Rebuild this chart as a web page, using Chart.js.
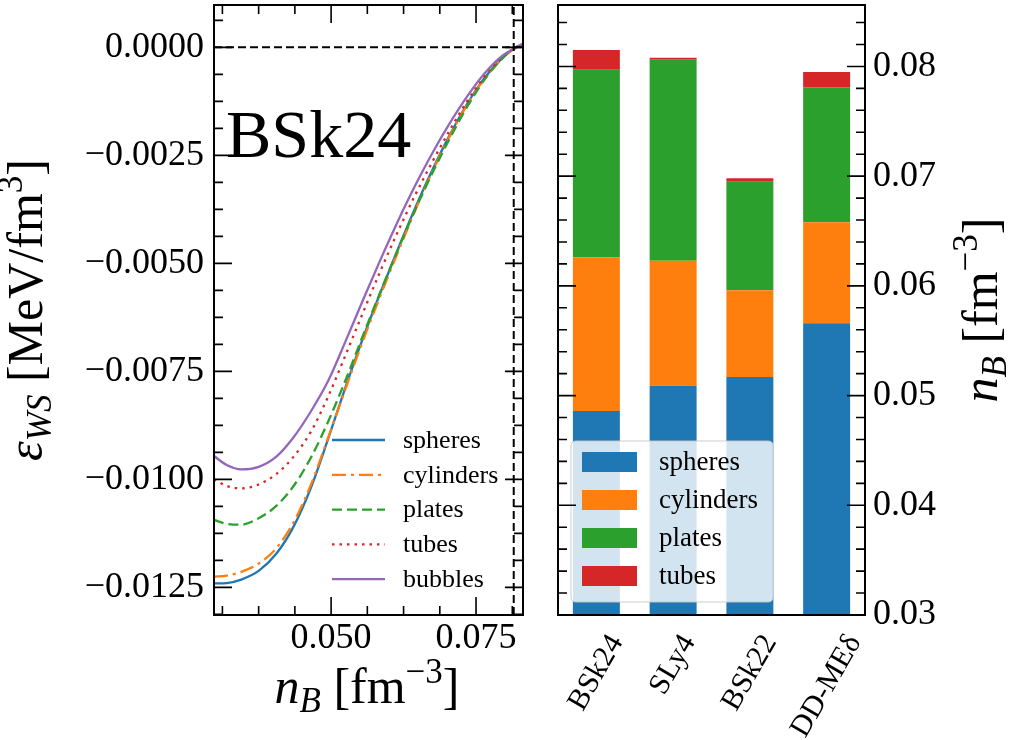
<!DOCTYPE html>
<html><head><meta charset="utf-8">
<script src="https://cdn.jsdelivr.net/npm/chart.js@4.4.1/dist/chart.umd.min.js"></script>
<style>
html,body{margin:0;padding:0;background:#fff;width:1009px;height:740px;overflow:hidden}
#ca{position:absolute;left:0;top:0}
#cb{position:absolute;left:540px;top:0}
</style></head><body>
<canvas id="ca" width="540" height="740"></canvas>
<canvas id="cb" width="469" height="740"></canvas>
<script>
// ---------------- data (left panel) ----------------
const nB           = [0.0298, 0.032, 0.0345, 0.0375, 0.0405, 0.0435, 0.0465, 0.0495, 0.0525, 0.0555, 0.0585, 0.0615, 0.0645, 0.0675, 0.0705, 0.0735, 0.0765, 0.0795, 0.0815, 0.0831];
const epsSpheres   = [-0.01241, -0.01240, -0.01232, -0.01212, -0.01173, -0.01110, -0.01020, -0.00906, -0.00786, -0.00673, -0.00568, -0.00468, -0.00372, -0.00283, -0.00202, -0.00130, -0.00070, -0.00025, -0.00003, 0.00008];
const epsCylinders = [-0.01225, -0.01223, -0.01214, -0.01195, -0.01160, -0.01100, -0.01013, -0.00903, -0.00790, -0.00679, -0.00575, -0.00475, -0.00378, -0.00287, -0.00205, -0.00132, -0.00072, -0.00026, -0.00004, 0.00008];
const epsPlates    = [-0.01094, -0.01103, -0.01105, -0.01090, -0.01062, -0.01016, -0.00950, -0.00866, -0.00770, -0.00667, -0.00566, -0.00469, -0.00376, -0.00290, -0.00210, -0.00137, -0.00074, -0.00026, -0.00004, 0.00007];
const epsTubes     = [-0.01000, -0.01015, -0.01021, -0.01012, -0.00988, -0.00948, -0.00890, -0.00808, -0.00712, -0.00614, -0.00518, -0.00427, -0.00342, -0.00264, -0.00191, -0.00124, -0.00067, -0.00022, -0.00003, 0.00008];
const epsBubbles   = [-0.00946, -0.00967, -0.00977, -0.00971, -0.00948, -0.00903, -0.00843, -0.00772, -0.00680, -0.00585, -0.00492, -0.00403, -0.00320, -0.00244, -0.00175, -0.00113, -0.00060, -0.00020, -0.00003, 0.00007];
const leftXTicks       = [0.050, 0.075];
const leftXTickLabels  = ['0.050', '0.075'];
const leftYTicks       = [-0.0125, -0.0100, -0.0075, -0.0050, -0.0025, 0.0000];
const leftYTickLabels  = ['\u22120.0125', '\u22120.0100', '\u22120.0075', '\u22120.0050', '\u22120.0025', '0.0000'];
const crustCoreEdge    = 0.0815;
const zeroLevel        = 0.0;
const seriesNames      = ['spheres', 'cylinders', 'plates', 'tubes', 'bubbles'];

// ---------------- data (right panel) ----------------
const models        = ['BSk24', 'SLy4', 'BSk22', 'DD-ME\u03b4'];
const endSpheres    = [0.0486, 0.0509, 0.0517, 0.0566];
const endCylinders  = [0.0626, 0.0623, 0.0596, 0.0658];
const endPlates     = [0.0797, 0.0806, 0.0695, 0.0781];
const endTubes      = [0.0815, 0.0808, 0.0698, 0.0795];
const rightYTicks      = [0.03, 0.04, 0.05, 0.06, 0.07, 0.08];
const rightYTickLabels = ['0.03', '0.04', '0.05', '0.06', '0.07', '0.08'];
const barNames      = ['spheres', 'cylinders', 'plates', 'tubes'];

// ---------------- styling ----------------
const FONT = '"Liberation Serif", "Times New Roman", serif';
const C = { blue: '#1f77b4', orange: '#ff7f0e', green: '#2ca02c', red: '#d62728', purple: '#9467bd' };
const LX = [0.0298, 0.0831], LY = [-0.01314, 0.00098], RY = [0.03, 0.0856];

function minorList(lo, hi, step, origin) {
  const out = [];
  let k = Math.ceil((lo - origin) / step - 1e-9);
  for (;; k++) { const v = +(origin + k * step).toFixed(8); if (v > hi + 1e-12) break; out.push(v); }
  return out;
}
function fontStr(p) { return (p.italic ? 'italic ' : '') + p.size + 'px ' + FONT; }
function rich(ctx, parts, x, y, angle) {
  ctx.save();
  ctx.translate(x, y); ctx.rotate(angle || 0);
  let total = 0;
  for (const p of parts) { ctx.font = fontStr(p); p.w = ctx.measureText(p.t).width; total += p.w; }
  let cx = -total / 2;
  ctx.textBaseline = 'alphabetic'; ctx.textAlign = 'left'; ctx.fillStyle = '#000';
  for (const p of parts) { ctx.font = fontStr(p); ctx.fillText(p.t, cx, p.dy || 0); cx += p.w; }
  ctx.restore();
}
function tickMarks(ctx, scale, vals, len, side, a) {
  ctx.beginPath();
  for (const v of vals) {
    const p = scale.getPixelForValue(v);
    if (side === 'left' || side === 'right') {
      if (p < a.top - 0.5 || p > a.bottom + 0.5) continue;
      const x0 = side === 'left' ? a.left : a.right;
      ctx.moveTo(x0, p); ctx.lineTo(side === 'left' ? x0 + len : x0 - len, p);
    } else {
      if (p < a.left - 0.5 || p > a.right + 0.5) continue;
      const y0 = side === 'bottom' ? a.bottom : a.top;
      ctx.moveTo(p, y0); ctx.lineTo(p, side === 'bottom' ? y0 - len : y0 + len);
    }
  }
  ctx.stroke();
}
const MAJ = 18, MIN = 9;

// ---------------- left chart ----------------
const lineStyles = [
  { data: epsSpheres,   color: C.blue,   dash: [],             order: 5 },
  { data: epsCylinders, color: C.orange, dash: [14, 5, 3, 5],  order: 4 },
  { data: epsPlates,    color: C.green,  dash: [10, 5],        order: 3 },
  { data: epsTubes,     color: C.red,    dash: [2.5, 5],       order: 2 },
  { data: epsBubbles,   color: C.purple, dash: [],             order: 1 }
];
const leftDatasets = lineStyles.map((s, i) => ({
  label: seriesNames[i],
  data: nB.map((x, j) => ({ x: x, y: s.data[j] })),
  borderColor: s.color, borderDash: s.dash, borderWidth: 2.3,
  pointRadius: 0, fill: false, cubicInterpolationMode: 'monotone', order: s.order
}));
leftDatasets.push({
  label: 'zero', data: [{ x: LX[0], y: zeroLevel }, { x: LX[1], y: zeroLevel }],
  borderColor: '#000', borderDash: [8, 4], borderWidth: 2, pointRadius: 0, order: 0
});
leftDatasets.push({
  label: 'edge', data: [{ x: crustCoreEdge, y: LY[0] }, { x: crustCoreEdge, y: LY[1] }],
  borderColor: '#000', borderDash: [8, 4], borderWidth: 2, pointRadius: 0, order: 0
});

const leftDecor = {
  id: 'leftDecor',
  afterDraw(chart) {
    const ctx = chart.ctx, a = chart.chartArea, xs = chart.scales.x, ys = chart.scales.y;
    ctx.save();
    ctx.strokeStyle = '#000'; ctx.lineWidth = 2; ctx.setLineDash([]);
    ctx.strokeRect(a.left, a.top, a.right - a.left, a.bottom - a.top);
    ctx.lineWidth = 1.6;
    const xMinor = minorList(LX[0], LX[1], 0.00625, 0.05).filter(v => !leftXTicks.some(t => Math.abs(t - v) < 1e-9));
    const yMinor = minorList(LY[0], LY[1], 0.000625, 0).filter(v => !leftYTicks.some(t => Math.abs(t - v) < 1e-9));
    ['bottom', 'top'].forEach(s => { tickMarks(ctx, xs, leftXTicks, MAJ, s, a); tickMarks(ctx, xs, xMinor, MIN, s, a); });
    ['left', 'right'].forEach(s => { tickMarks(ctx, ys, leftYTicks, MAJ, s, a); tickMarks(ctx, ys, yMinor, MIN, s, a); });
    // model name
    ctx.fillStyle = '#000'; ctx.font = '68px ' + FONT; ctx.textBaseline = 'alphabetic'; ctx.textAlign = 'left';
    ctx.fillText('BSk24', 226, 157);
    // legend
    ctx.font = '26px ' + FONT; ctx.textBaseline = 'middle';
    lineStyles.forEach((s, i) => {
      const y = 440 + i * 34.8;
      ctx.beginPath(); ctx.strokeStyle = s.color; ctx.lineWidth = 2.3; ctx.setLineDash(s.dash);
      ctx.moveTo(332, y); ctx.lineTo(385, y); ctx.stroke();
      ctx.setLineDash([]); ctx.fillStyle = '#000';
      ctx.fillText(seriesNames[i], 403, y + 1);
    });
    // axis titles
    rich(ctx, [{ t: 'n', italic: true, size: 50 }, { t: 'B', italic: true, size: 35, dy: 9 },
               { t: ' [fm', size: 50 }, { t: '\u22123', size: 35, dy: -20 }, { t: ']', size: 50 }], 367, 703, 0);
    rich(ctx, [{ t: '\u03b5', italic: true, size: 50 }, { t: 'WS', italic: true, size: 35, dy: 9 },
               { t: ' [MeV/fm', size: 50 }, { t: '3', size: 35, dy: -20 }, { t: ']', size: 50 }], 42, 310, -Math.PI / 2);
    ctx.restore();
  }
};

new Chart(document.getElementById('ca'), {
  type: 'line',
  data: { datasets: leftDatasets },
  options: {
    responsive: false, animation: false, devicePixelRatio: 1,
    layout: { padding: { left: 0, top: 5, right: 17, bottom: 0 } },
    plugins: { legend: { display: false }, tooltip: { enabled: false } },
    scales: {
      x: {
        type: 'linear', min: LX[0], max: LX[1],
        grid: { display: false, drawTicks: false }, border: { display: false },
        afterBuildTicks: s => { s.ticks = leftXTicks.map(v => ({ value: v })); },
        afterFit: s => { s.height = 125; s.paddingLeft = 0; s.paddingRight = 0; },
        ticks: { autoSkip: false, maxRotation: 0, padding: 2, color: '#000', font: { family: FONT, size: 36 },
                 callback: (v, i) => leftXTickLabels[i] }
      },
      y: {
        type: 'linear', min: LY[0], max: LY[1],
        grid: { display: false, drawTicks: false }, border: { display: false },
        afterBuildTicks: s => { s.ticks = leftYTicks.map(v => ({ value: v })); },
        afterFit: s => { s.width = 214; s.paddingTop = 0; s.paddingBottom = 0; },
        ticks: { autoSkip: false, padding: 10, color: '#000', font: { family: FONT, size: 36 },
                 callback: (v, i) => leftYTickLabels[i] }
      }
    }
  },
  plugins: [leftDecor]
});

// ---------------- right chart ----------------
const barColors = [C.blue, C.orange, C.green, C.red];
const lows  = [models.map(() => RY[0]), endSpheres, endCylinders, endPlates];
const highs = [endSpheres, endCylinders, endPlates, endTubes];
const rightDatasets = barNames.map((n, k) => ({
  label: n,
  data: models.map((m, i) => [lows[k][i], highs[k][i]]),
  backgroundColor: barColors[k], borderWidth: 0, grouped: false,
  barPercentage: 0.612, categoryPercentage: 1.0
}));

const rightDecor = {
  id: 'rightDecor',
  afterDraw(chart) {
    const ctx = chart.ctx, a = chart.chartArea, xs = chart.scales.x, ys = chart.scales.y;
    ctx.save();
    ctx.strokeStyle = '#000'; ctx.lineWidth = 2;
    ctx.strokeRect(a.left, a.top, a.right - a.left, a.bottom - a.top);
    ctx.lineWidth = 1.6;
    const yMinor = minorList(RY[0], RY[1], 0.002, 0.03).filter(v => !rightYTicks.some(t => Math.abs(t - v) < 1e-9));
    ['left', 'right'].forEach(s => { tickMarks(ctx, ys, rightYTicks, MAJ, s, a); tickMarks(ctx, ys, yMinor, MIN, s, a); });
    // rotated category labels, centred on the bars
    ctx.font = '30px ' + FONT; ctx.fillStyle = '#000'; ctx.textAlign = 'center'; ctx.textBaseline = 'middle';
    const ang = Math.PI / 3;
    models.forEach((m, i) => {
      const cx = xs.getPixelForValue(i);
      const L = ctx.measureText(m).width, h = 26;
      const bh = L * Math.sin(ang) + h * Math.cos(ang);
      ctx.save(); ctx.translate(cx, 631 + bh / 2); ctx.rotate(-ang); ctx.fillText(m, 0, 0); ctx.restore();
    });
    // axis title
    rich(ctx, [{ t: 'n', italic: true, size: 50 }, { t: 'B', italic: true, size: 35, dy: 9 },
               { t: ' [fm', size: 50 }, { t: '\u22123', size: 35, dy: -20 }, { t: ']', size: 50 }], 457, 310, -Math.PI / 2);
    ctx.restore();
  },
  afterDatasetsDraw(chart) {
    const ctx = chart.ctx;
    ctx.save();
    const bx = 31, by = 441, bw = 202, bh = 161, r = 5;
    ctx.beginPath();
    ctx.moveTo(bx + r, by); ctx.lineTo(bx + bw - r, by); ctx.quadraticCurveTo(bx + bw, by, bx + bw, by + r);
    ctx.lineTo(bx + bw, by + bh - r); ctx.quadraticCurveTo(bx + bw, by + bh, bx + bw - r, by + bh);
    ctx.lineTo(bx + r, by + bh); ctx.quadraticCurveTo(bx, by + bh, bx, by + bh - r);
    ctx.lineTo(bx, by + r); ctx.quadraticCurveTo(bx, by, bx + r, by); ctx.closePath();
    ctx.fillStyle = 'rgba(255,255,255,0.8)'; ctx.fill();
    ctx.strokeStyle = 'rgba(200,200,200,0.9)'; ctx.lineWidth = 1; ctx.stroke();
    ctx.font = '27px ' + FONT; ctx.textBaseline = 'middle'; ctx.textAlign = 'left';
    barNames.forEach((n, k) => {
      const y = 462 + k * 38;
      ctx.fillStyle = barColors[k]; ctx.fillRect(42, y - 10, 55, 20);
      ctx.fillStyle = '#000'; ctx.fillText(n, 119, y + 1);
    });
    ctx.restore();
  }
};

new Chart(document.getElementById('cb'), {
  type: 'bar',
  data: { labels: models, datasets: rightDatasets },
  options: {
    responsive: false, animation: false, devicePixelRatio: 1,
    layout: { padding: { left: 18, top: 5, right: 0, bottom: 0 } },
    plugins: { legend: { display: false }, tooltip: { enabled: false } },
    scales: {
      x: {
        type: 'category', offset: true,
        grid: { display: false, drawTicks: false }, border: { display: false },
        ticks: { display: false },
        afterFit: s => { s.height = 125; s.paddingLeft = 0; s.paddingRight = 0; }
      },
      y: {
        type: 'linear', position: 'right', min: RY[0], max: RY[1],
        grid: { display: false, drawTicks: false }, border: { display: false },
        afterBuildTicks: s => { s.ticks = rightYTicks.map(v => ({ value: v })); },
        afterFit: s => { s.width = 144; s.paddingTop = 0; s.paddingBottom = 0; },
        ticks: { autoSkip: false, padding: 8, color: '#000', font: { family: FONT, size: 36 },
                 callback: (v, i) => rightYTickLabels[i] }
      }
    }
  },
  plugins: [rightDecor]
});
</script>
</body></html>
